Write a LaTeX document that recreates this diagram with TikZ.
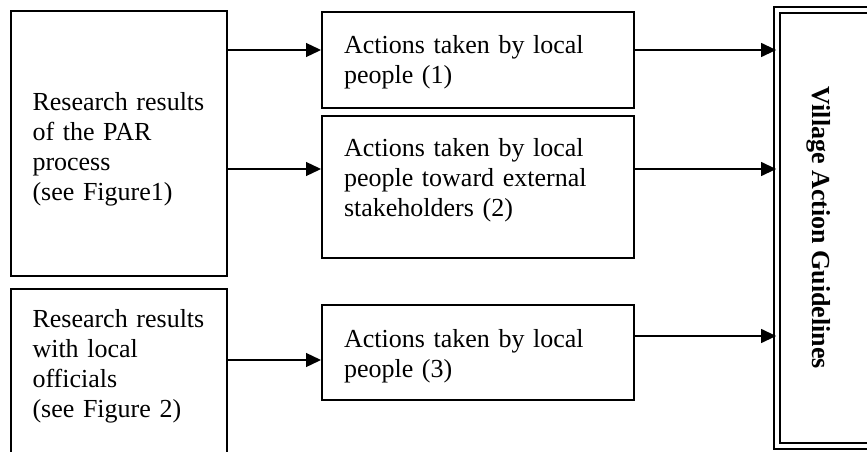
\documentclass[tikz,border=0pt]{standalone}
\usepackage{fontspec}
\setmainfont{Liberation Serif}
\usetikzlibrary{arrows.meta}

\begin{document}
\begin{tikzpicture}[
  x=1pt, y=-1pt,
  box/.style={draw, line width=2pt, anchor=north west, align=left,
              text width=#1, inner xsep=22pt, inner ysep=0pt},
  guide/.style={draw, double, double distance=3.7pt, line width=1.8pt,
                rotate=-90, font=\fontsize{26}{30}\selectfont\bfseries},
  arr/.style={line width=1.3pt, -{Triangle[length=15pt, width=14pt]}},
  font=\fontsize{26}{30}\selectfont,
]
\useasboundingbox (0,0) rectangle (867,452);
\node[box=172.5pt, text height=99pt, text depth=166pt] (par)  at (9.5,10)  {Research results\\of the PAR\\process\\(see Figure1)};
\node[box=172.5pt, text height=38pt, text depth=149pt] (off)  at (9.5,288) {Research results\\with local\\officials\\(see Figure 2)};
\node[box=268pt, text height=41pt, text depth=55pt]    (act1) at (321,11)  {Actions taken by local\\people (1)};
\node[box=268pt, text height=40pt, text depth=102pt]   (act2) at (321,115) {Actions taken by local\\people toward external\\stakeholders (2)};
\node[box=268pt, text height=42pt, text depth=53pt]    (act3) at (321,304) {Actions taken by local\\people (3)};
\node[guide, minimum width=436pt, minimum height=118pt,
      text height=53pt, text depth=5pt]                (vag)  at (836,228) {Village Action Guidelines};

\draw[arr] (par.east |- 0,50)  -- (act1.west |- 0,50);
\draw[arr] (par.east |- 0,169) -- (act2.west |- 0,169);
\draw[arr] (off.east |- 0,360) -- (act3.west |- 0,360);
\draw[arr] (act1.east |- 0,50)  -- (vag.south |- 0,50);
\draw[arr] (act2.east |- 0,169) -- (vag.south |- 0,169);
\draw[arr] (act3.east |- 0,336) -- (vag.south |- 0,336);
\end{tikzpicture}
\end{document}
